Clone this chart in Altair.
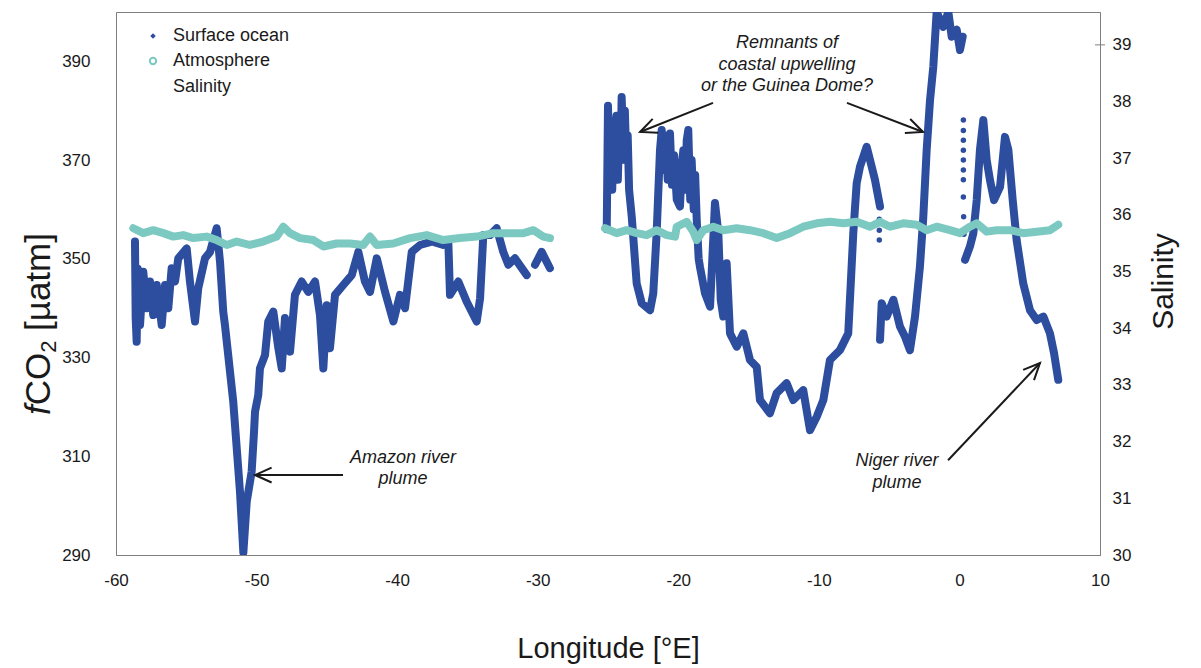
import math

import altair as alt
import pandas as pd

# ---- plot geometry and styling -------------------------------------------
W, H = 984, 543
LON_DOMAIN = [-60, 10]
FCO2_DOMAIN = [290, 400]
SAL_DOMAIN = [30, 39.58]

OCEAN = "#2D4E9F"
AIR = "#7CC9C2"
INK = "#1a1a1a"
FRAME = "#7f7f7f"
FONT = "Liberation Sans"

# ---- axis ticks -------------------------------------------------------------
lon_ticks = [-60, -50, -40, -30, -20, -10, 0, 10]
fco2_ticks = [290, 310, 330, 350, 370, 390]
sal_ticks = [30, 31, 32, 33, 34, 35, 36, 37, 38, 39]
sal_marked_tick = [39]

# ---- surface ocean fCO2 (longitude, fCO2 in uatm), one list per track leg ---
ocean_west = [
    (-58.65, 353.5), (-58.60, 338.0), (-58.53, 333.2), (-58.45, 348.0),
    (-58.29, 336.6), (-58.06, 347.4),
    (-57.82, 340.0), (-57.58, 345.4), (-57.35, 338.6), (-57.10, 344.7),
    (-56.75, 336.6), (-56.51, 344.7), (-56.28, 340.0), (-56.04, 348.1),
    (-55.80, 345.4), (-55.57, 350.1), (-54.97, 352.1), (-54.74, 345.4),
    (-54.38, 337.3), (-54.15, 344.0), (-53.67, 350.1), (-53.31, 351.4),
    (-52.84, 356.2), (-52.60, 349.4), (-52.37, 339.3), (-52.25, 336.6),
    (-51.66, 321.1), (-51.18, 302.8), (-50.94, 290.5), (-50.70, 300.8),
    (-50.35, 306.9), (-50.18, 315.0), (-50.11, 319.0), (-49.88, 322.4),
    (-49.76, 327.8), (-49.40, 330.5), (-49.17, 337.3), (-48.81, 339.3),
    (-48.45, 331.9), (-48.21, 327.8), (-47.98, 338.0), (-47.62, 331.2),
    (-47.27, 342.7), (-46.79, 345.4), (-46.32, 343.3), (-45.84, 345.4),
    (-45.49, 338.6), (-45.25, 327.8), (-45.01, 340.6), (-44.78, 331.9),
    (-44.42, 342.7), (-43.83, 344.7), (-43.23, 346.7), (-42.76, 351.4),
    (-42.29, 345.4), (-41.93, 343.3), (-41.45, 350.1), (-40.86, 343.3),
    (-40.27, 337.3), (-39.80, 342.7), (-39.44, 340.0), (-38.96, 351.4),
    (-38.37, 352.8), (-37.54, 353.5), (-36.72, 352.8), (-36.36, 353.5),
    (-36.24, 342.7), (-35.65, 345.4), (-35.05, 341.3), (-34.34, 337.3),
    (-34.10, 342.0), (-33.87, 354.8), (-33.39, 354.8), (-32.92, 356.2),
    (-32.45, 351.4), (-32.09, 348.8), (-31.62, 350.1), (-30.78, 346.7),
]
ocean_west_end = [(-30.19, 348.8), (-29.72, 351.4), (-29.13, 348.1)]
ocean_east = [
    (-25.09, 356.0), (-25.00, 381.0), (-24.90, 366.0), (-24.80, 378.0),
    (-24.70, 364.0), (-24.60, 376.0), (-24.50, 368.0), (-24.40, 379.0),
    (-24.30, 366.0), (-24.20, 377.0), (-24.10, 370.0), (-24.03, 382.8),
    (-23.90, 372.0), (-23.80, 380.0), (-23.70, 370.0), (-23.60, 375.0),
    (-23.50, 364.0), (-23.31, 358.5),
    (-22.96, 345.0), (-22.60, 341.0), (-22.01, 339.6), (-21.78, 343.0),
    (-21.54, 355.2), (-21.30, 372.1), (-21.18, 376.1), (-21.00, 368.0),
    (-20.90, 375.0), (-20.75, 366.0), (-20.59, 375.4), (-20.45, 365.0),
    (-20.30, 371.0), (-20.11, 362.0), (-19.88, 360.6), (-19.75, 369.0),
    (-19.64, 372.0), (-19.50, 364.0), (-19.40, 374.0), (-19.29, 376.1),
    (-19.15, 362.0), (-19.05, 370.0), (-18.90, 360.0), (-18.80, 367.0),
    (-18.69, 358.0), (-18.55, 350.0),
    (-18.46, 348.4), (-18.10, 343.0),
    (-17.74, 340.3), (-17.39, 361.3), (-17.15, 355.2), (-16.98, 341.7),
    (-16.80, 338.3), (-16.56, 349.1), (-16.32, 334.9), (-15.84, 332.2),
    (-15.37, 334.9), (-14.90, 329.5), (-14.42, 328.1), (-14.19, 321.4),
    (-13.48, 318.7), (-13.00, 322.8), (-12.29, 324.8), (-11.82, 321.4),
    (-11.11, 323.4), (-10.63, 315.3), (-10.15, 318.0), (-9.68, 321.4),
    (-9.21, 329.5), (-8.50, 331.5), (-7.91, 334.9), (-7.55, 355.2),
    (-7.31, 365.3), (-7.07, 368.7), (-6.60, 372.7), (-6.36, 370.0),
    (-6.01, 366.0), (-5.65, 360.6),
]
ocean_dome = [
    (-5.65, 333.6), (-5.53, 341.0), (-5.17, 338.3), (-4.70, 341.7),
    (-4.23, 336.3), (-3.87, 334.2), (-3.52, 331.5), (-3.16, 338.3),
    (-2.81, 348.4), (-2.57, 358.5), (-2.33, 372.1), (-2.09, 382.2),
    (-1.86, 388.9), (-1.62, 400.0), (-1.15, 397.0), (-0.79, 400.0),
    (-0.55, 395.0), (-0.19, 396.4), (0.04, 392.3), (0.23, 395.0),
]
ocean_gulf = [
    (0.40, 349.8), (0.75, 352.5), (0.99, 355.2), (1.23, 361.9),
    (1.46, 372.1), (1.70, 378.1), (1.94, 370.0), (2.17, 366.0),
    (2.46, 361.9), (2.89, 364.6), (3.24, 374.7), (3.48, 372.1),
    (3.79, 361.9), (4.07, 353.8), (4.54, 345.0), (5.02, 339.6),
    (5.50, 337.6), (5.97, 338.3), (6.44, 334.9), (6.73, 330.9),
    (7.03, 325.5),
]
# isolated readings between the continuous stretches
ocean_sparse = [
    (-5.70, 358.0), (-5.70, 355.8), (-5.70, 353.8),
    (0.28, 378.1), (0.28, 376.0), (0.28, 374.0), (0.28, 372.0),
    (0.28, 370.0), (0.28, 368.0), (0.28, 366.0), (0.28, 362.5),
    (0.30, 358.5), (0.32, 355.0),
]

# ---- atmospheric fCO2 ----------------------------------------------------------
air_west = [
    (-58.77, 356.2), (-58.06, 355.2), (-57.35, 355.8), (-56.63, 355.2),
    (-55.92, 354.5), (-55.21, 354.8), (-54.50, 354.2), (-53.55, 354.5),
    (-52.84, 353.8), (-52.12, 352.8), (-51.41, 353.5), (-50.47, 352.8),
    (-49.52, 353.5), (-48.57, 354.5), (-48.10, 356.5), (-47.62, 355.2),
    (-46.91, 354.2), (-45.96, 353.8), (-45.25, 352.5), (-44.30, 353.1),
    (-43.35, 353.1), (-42.41, 352.8), (-41.93, 354.5), (-41.45, 352.8),
    (-40.27, 353.1), (-39.08, 354.2), (-37.90, 354.8), (-36.72, 353.8),
    (-35.53, 354.2), (-34.34, 354.5), (-33.16, 355.2), (-31.97, 355.2),
    (-31.02, 355.2), (-30.31, 355.8), (-29.60, 354.5), (-29.13, 354.2),
]
air_east = [
    (-25.21, 356.2), (-24.38, 355.2), (-23.67, 355.8), (-22.96, 355.2),
    (-22.25, 354.8), (-21.54, 355.8), (-20.82, 354.8), (-20.23, 354.5),
    (-20.11, 356.5), (-19.40, 357.5), (-18.93, 355.5), (-18.69, 353.8),
    (-18.22, 355.8), (-17.51, 356.5), (-16.80, 355.8), (-15.85, 356.2),
    (-14.90, 355.8), (-13.95, 355.2), (-13.00, 354.2), (-12.05, 355.2),
    (-11.11, 356.5), (-10.15, 357.2), (-9.21, 357.5), (-8.26, 357.2),
    (-7.31, 357.5), (-6.36, 356.5), (-5.65, 357.5), (-4.94, 356.5),
    (-4.00, 357.2), (-3.04, 356.9), (-2.33, 355.8), (-1.62, 356.5),
    (-0.67, 355.8), (0.04, 355.2), (0.75, 356.5), (1.23, 357.2),
    (1.94, 355.5), (2.65, 355.8), (3.60, 355.8), (4.54, 355.2),
    (5.50, 355.5), (6.44, 355.8), (7.03, 356.9),
]

# ---- annotations: text lines (lon, fCO2, text) and arrows (tail -> tip) ------
note_lines = [
    (-12.27, 393.7, "Remnants of"),
    (-12.27, 389.3, "coastal upwelling"),
    (-12.27, 385.0, "or the Guinea Dome?"),
    (-39.58, 309.6, "Amazon river"),
    (-39.58, 305.3, "plume"),
    (-4.44, 309.0, "Niger river"),
    (-4.44, 304.6, "plume"),
]
arrow_tail_lon = [-17.53, -8.00, -43.85, -0.81]
arrow_tail_fco2 = [381.6, 381.6, 306.2, 309.2]
arrow_tip_lon = [-22.72, -2.59, -50.11, 5.73]
arrow_tip_fco2 = [375.7, 375.7, 306.2, 328.9]

legend_labels = ["Surface ocean", "Atmosphere", "Salinity"]


def track_frame(legs):
    rows = []
    for leg, pts in legs.items():
        for i, (lon, val) in enumerate(pts):
            rows.append({"leg": leg, "order": i, "lon": lon, "fco2": val})
    return pd.DataFrame(rows)


ocean_df = track_frame({
    "west": ocean_west, "west_end": ocean_west_end, "east": ocean_east,
    "dome": ocean_dome, "gulf": ocean_gulf,
})
sparse_df = pd.DataFrame(ocean_sparse, columns=["lon", "fco2"])
air_df = track_frame({"west": air_west, "east": air_east})
notes_df = pd.DataFrame(note_lines, columns=["lon", "fco2", "text"])

px_per_lon = W / (LON_DOMAIN[1] - LON_DOMAIN[0])
px_per_fco2 = H / (FCO2_DOMAIN[1] - FCO2_DOMAIN[0])
arrows_df = pd.DataFrame({
    "lon": arrow_tail_lon, "fco2": arrow_tail_fco2,
    "lon_tip": arrow_tip_lon, "fco2_tip": arrow_tip_fco2,
})
arrows_df["heading"] = [
    math.degrees(math.atan2(-(b1 - a1) * px_per_fco2, (b0 - a0) * px_per_lon)) % 360
    for a0, a1, b0, b1 in zip(arrow_tail_lon, arrow_tail_fco2, arrow_tip_lon, arrow_tip_fco2)
]
heads_df = pd.DataFrame({
    "lon": arrow_tip_lon, "fco2": arrow_tip_fco2, "heading": arrows_df["heading"],
})

# ---- shared encodings -------------------------------------------------------
x_axis = alt.Axis(
    values=lon_ticks, labelExpr="'' + datum.value", title="Longitude [°E]",
    ticks=False, tickSize=0, grid=False, domainColor=FRAME, labelFlush=False,
    labelFont=FONT, labelFontSize=17, labelColor=INK, labelPadding=17,
    titleFont=FONT, titleFontSize=29, titleFontWeight="normal", titleColor=INK,
    titlePadding=46,
)
y_axis = alt.Axis(
    values=fco2_ticks, labelExpr="'' + datum.value", title=None,
    ticks=False, tickSize=0, grid=False, domainColor=FRAME,
    labelFont=FONT, labelFontSize=17, labelColor=INK, labelPadding=26,
)
x_enc = alt.X("lon:Q", scale=alt.Scale(domain=LON_DOMAIN, nice=False, zero=False), axis=x_axis)
y_scale = alt.Scale(domain=FCO2_DOMAIN, nice=False, zero=False)
y_enc = alt.Y("fco2:Q", scale=y_scale, axis=y_axis)

ocean_line = alt.Chart(ocean_df).mark_line(
    color=OCEAN, strokeWidth=8, strokeCap="round", strokeJoin="round", clip=True
).encode(x=x_enc, y=y_enc, detail="leg:N", order="order:Q")

ocean_dots = alt.Chart(sparse_df).mark_circle(color=OCEAN, size=30, opacity=1, clip=True).encode(
    x=x_enc, y=y_enc
)

air_line = alt.Chart(air_df).mark_line(
    color=AIR, strokeWidth=8, strokeCap="round", strokeJoin="round", clip=True
).encode(x=x_enc, y=y_enc, detail="leg:N", order="order:Q")

notes = alt.Chart(notes_df).mark_text(
    font=FONT, fontSize=18, fontStyle="italic", color=INK, align="center", baseline="middle"
).encode(x=x_enc, y=y_enc, text="text:N")

shafts = alt.Chart(arrows_df).mark_rule(color=INK, strokeWidth=2).encode(
    x=x_enc, y=y_enc, x2="lon_tip:Q", y2="fco2_tip:Q"
)
heads = alt.Chart(heads_df).mark_point(
    shape="M-1,-0.45L0,0L-1,0.45", filled=False, color=INK, strokeWidth=2,
    size=1100, opacity=1,
).encode(x=x_enc, y=y_enc, angle=alt.Angle("heading:Q", scale=None))

# ---- hand-built legend (top left of the plot) ----------------------------------
one = pd.DataFrame({"k": [0]})
legend_rows = [24, 49, 75]
legend_text = [
    alt.Chart(one).mark_text(
        font=FONT, fontSize=18, color=INK, align="left", baseline="middle"
    ).encode(x=alt.value(57), y=alt.value(yy), text=alt.value(lbl))
    for lbl, yy in zip(legend_labels, legend_rows)
]
legend_ocean = alt.Chart(one).mark_point(
    shape="diamond", filled=True, color=OCEAN, size=30, opacity=1
).encode(x=alt.value(37), y=alt.value(legend_rows[0]))
legend_air = alt.Chart(one).mark_point(
    shape="circle", filled=False, color=AIR, size=40, strokeWidth=2, opacity=1
).encode(x=alt.value(37), y=alt.value(legend_rows[1]))

# ---- y-axis titles (left: fCO2 with italic f and subscript 2) ------------------
TF = 35
title_center = 312
space = 0.278 * TF
pieces = [("f", "italic", TF, 0.278 * TF, 0),
          ("CO", "normal", TF, 1.5 * TF, 0),
          ("2", "normal", round(TF * 0.62), 0.556 * TF * 0.62 + space, 6),
          ("[µatm]", "normal", TF, 2.8 * TF, 0)]
total = sum(p[3] for p in pieces)
start = title_center + total / 2
left_title = []
for txt, style, size, width, shift in pieces:
    left_title.append(
        alt.Chart(one).mark_text(
            font=FONT, fontSize=size, fontStyle=style, color=INK,
            align="left", baseline="alphabetic", angle=270,
        ).encode(x=alt.value(-66 + shift), y=alt.value(start), text=alt.value(txt))
    )
    start -= width

right_title = alt.Chart(one).mark_text(
    font=FONT, fontSize=30, color=INK, align="center", baseline="middle", angle=270
).encode(x=alt.value(W + 64), y=alt.value(H / 2 - 2), text=alt.value("Salinity"))

# ---- right-hand salinity axis ---------------------------------------------------
sal_scale = alt.Scale(domain=SAL_DOMAIN, nice=False, zero=False)
sal_axis = alt.Axis(
    orient="right", values=sal_ticks, title=None, ticks=False, tickSize=0,
    grid=False, domainColor=FRAME, labelFont=FONT, labelFontSize=17,
    labelColor=INK, labelPadding=12,
)
salinity_axis = alt.Chart(pd.DataFrame({"salinity": sal_ticks})).mark_point(opacity=0).encode(
    y=alt.Y("salinity:Q", scale=sal_scale, axis=sal_axis)
)
salinity_tick = alt.Chart(pd.DataFrame({"salinity": sal_marked_tick})).mark_rule(
    color=FRAME, strokeWidth=1
).encode(
    y=alt.Y("salinity:Q", scale=sal_scale, axis=sal_axis),
    x=alt.value(W - 5), x2=alt.value(W + 5),
)
salinity_panel = alt.layer(salinity_axis, salinity_tick)

fco2_panel = alt.layer(
    ocean_line, ocean_dots, air_line, shafts, heads, notes,
    legend_ocean, legend_air, *legend_text, *left_title, right_title,
)

chart = (
    alt.layer(fco2_panel, salinity_panel)
    .resolve_scale(y="independent")
    .properties(
        width=W, height=H,
        autosize=alt.AutoSizeParams(type="none"),
        padding={"left": 116, "top": 12, "right": 101, "bottom": 113},
        background="white",
    )
    .configure_view(stroke=FRAME, strokeWidth=1)
)

chart.save("out.html", embed_options={"renderer": "svg", "actions": False})
